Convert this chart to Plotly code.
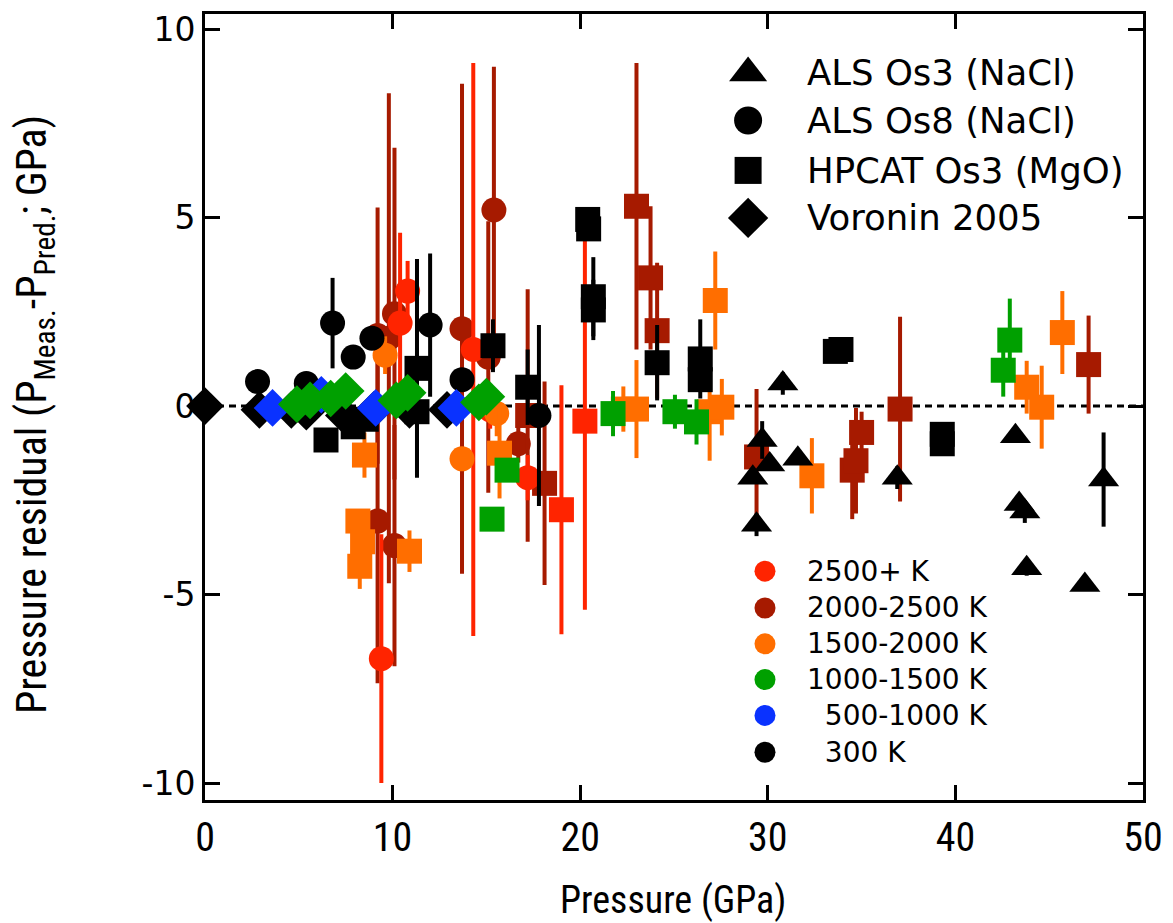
import plotly.graph_objects as go

# ---------------- data ----------------
# colours for temperature bins
temp_labels = ["2500+ K", "2000-2500 K", "1500-2000 K", "1000-1500 K", "\u2007500-1000 K", "\u2007300 K"]
temp_colors = ["#ff2400", "#a61a00", "#ff6e00", "#00a000", "#0a32ff", "#000000"]

series_names = ["ALS Os3 (NaCl)", "ALS Os8 (NaCl)", "HPCAT Os3 (MgO)", "Voronin 2005"]
series_symbols = ["triangle-up", "circle", "square", "diamond"]

# ALS Os3 (NaCl) triangles, 300 K
tri_300_x = [29.2, 29.4, 29.7, 30.1, 30.8, 31.6, 36.9, 43.2, 43.4, 43.7, 43.8, 46.9, 47.9]
tri_300_y = [-1.9, -3.15, -0.9, -1.55, 0.6, -1.4, -1.9, -0.8, -2.6, -2.8, -4.3, -4.75, -1.95]
tri_300_e = [0.0, 0.3, 0.5, 0.0, 0.3, 0.0, 0.3, 0.0, 0.0, 0.3, 0.2, 0.0, 1.25]

# ALS Os8 (NaCl) circles
cir_2500_x = [9.4, 10.4, 10.8, 14.3, 15.2, 17.2]
cir_2500_y = [-6.7, 2.2, 3.05, 1.5, -0.1, -1.9]
cir_2500_e = [3.3, 2.4, 0.8, 7.6, 0.5, 0.6]

cir_2000_x = [9.2, 9.8, 10.1, 9.2, 10.1, 13.7, 15.4, 15.1, 16.7]
cir_2000_y = [1.87, 1.8, 2.45, -3.05, -3.7, 2.05, 5.2, 1.3, -1.0]
cir_2000_e = [3.4, 6.5, 4.4, 4.3, 3.2, 6.5, 3.8, 3.6, 0.5]

cir_1500_x = [9.6, 13.7, 15.55]
cir_1500_y = [1.35, -1.4, -0.2]
cir_1500_e = [0.5, 0.0, 0.6]

cir_300_x = [2.8, 5.4, 6.8, 7.9, 8.9, 12.0, 13.7, 17.8]
cir_300_y = [0.65, 0.6, 2.2, 1.3, 1.8, 2.15, 0.7, -0.25]
cir_300_e = [0.0, 0.0, 1.2, 0.3, 0.0, 1.9, 0.0, 2.4]

# HPCAT Os3 (MgO) squares
sq_2500_x = [19.0, 20.25]
sq_2500_y = [-2.75, -0.4]
sq_2500_e = [3.3, 5.0]

sq_2000_x = [17.2, 18.1, 23.0, 23.75, 24.1, 29.4, 34.5, 34.7, 35.0, 37.05, 47.1]
sq_2000_y = [-0.25, -2.05, 5.3, 3.4, 2.0, -1.35, -1.7, -1.45, -0.7, -0.08, 1.1]
sq_2000_e = [3.35, 2.7, 3.8, 1.9, 1.8, 1.8, 1.3, 1.4, 0.55, 2.45, 1.3]

sq_1500_x = [8.5, 8.15, 8.4, 8.25, 10.9, 15.7, 22.3, 23.0, 26.9, 27.2, 27.55, 32.35, 43.8, 44.6, 45.7]
sq_1500_y = [-1.3, -3.05, -3.6, -4.25, -3.85, -1.25, -0.08, -0.08, -0.15, 2.8, -0.03, -1.85, 0.5, -0.03, 1.95]
sq_1500_e = [0.6, 0.0, 0.0, 0.6, 0.55, 1.2, 0.6, 1.3, 1.3, 1.3, 0.75, 1.0, 0.7, 1.1, 1.1]

sq_1000_x = [15.3, 16.1, 21.75, 25.05, 26.2, 42.55, 42.9]
sq_1000_y = [-3.0, -1.7, -0.2, -0.15, -0.42, 0.95, 1.75]
sq_1000_e = [0.3, 0.3, 0.6, 0.45, 0.6, 0.7, 1.1]

sq_300_x = [6.45, 7.9, 8.6, 11.3, 11.3, 15.35, 17.2, 20.4, 20.45, 20.7, 20.7, 24.1, 26.4, 26.4, 33.6, 33.9, 39.3, 39.3]
sq_300_y = [-0.9, -0.55, -0.35, 1.0, -0.15, 1.6, 0.5, 4.95, 4.7, 2.9, 2.55, 1.15, 1.25, 0.7, 1.45, 1.5, -0.75, -1.0]
sq_300_e = [0.0, 0.0, 0.0, 2.9, 1.7, 0.7, 1.0, 0.0, 0.3, 1.05, 0.8, 1.0, 1.05, 0.3, 0.0, 0.0, 0.3, 0.3]

# Voronin 2005 diamonds
dia_300_x = [0.0, 2.9, 4.6, 5.4, 7.4, 9.0, 10.9, 12.9]
dia_300_y = [0.0, -0.1, -0.1, -0.15, -0.25, -0.1, -0.1, -0.1]

dia_500_x = [3.6, 6.2, 9.1, 13.4]
dia_500_y = [-0.05, 0.3, -0.05, -0.05]

dia_1000_x = [4.9, 5.6, 6.7, 7.5, 10.2, 10.8, 14.6, 15.0]
dia_1000_y = [0.05, 0.15, 0.2, 0.4, 0.15, 0.35, 0.1, 0.25]

x_ticks = [0, 10, 20, 30, 40, 50]
y_ticks = [-10, -5, 0, 5, 10]

# ---------------- figure ----------------
fig = go.Figure()

SIZES = {"triangle-up": 27, "circle": 25, "square": 25, "diamond": 29}


def add(x, y, err, symbol, color):
    kw = {}
    if err is not None:
        kw["error_y"] = dict(type="data", array=err, visible=True, width=0,
                             thickness=4, color=color)
    fig.add_trace(go.Scatter(
        x=x, y=y, mode="markers", showlegend=False, cliponaxis=False,
        marker=dict(symbol=symbol, size=SIZES[symbol], color=color,
                    line=dict(width=0)),
        **kw))


c2500, c2000, c1500, c1000, c500, c300 = temp_colors

add(cir_2000_x, cir_2000_y, cir_2000_e, "circle", c2000)
add(sq_2000_x, sq_2000_y, sq_2000_e, "square", c2000)
add(cir_2500_x, cir_2500_y, cir_2500_e, "circle", c2500)
add(sq_2500_x, sq_2500_y, sq_2500_e, "square", c2500)
add(cir_1500_x, cir_1500_y, cir_1500_e, "circle", c1500)
add(sq_1500_x, sq_1500_y, sq_1500_e, "square", c1500)
add(sq_1000_x, sq_1000_y, sq_1000_e, "square", c1000)
add(cir_300_x, cir_300_y, cir_300_e, "circle", c300)
add(sq_300_x, sq_300_y, sq_300_e, "square", c300)
add(tri_300_x, tri_300_y, tri_300_e, "triangle-up", c300)
add(dia_300_x, dia_300_y, None, "diamond", c300)
add(dia_500_x, dia_500_y, None, "diamond", c500)
add(dia_1000_x, dia_1000_y, None, "diamond", c1000)

# zero reference line
fig.add_shape(type="line", x0=0, x1=50, y0=0, y1=0, xref="x", yref="y",
              line=dict(color="black", width=3, dash="7px,5px"), layer="below")

# ---- custom legends (overlay axis in plot-area fractions) ----
leg1_x, leg1_tx = 0.579, 0.6397
leg1_y = [0.925, 0.8645, 0.801, 0.7405]
leg1_sizes = [33, 28, 27, 31]
for name, sym, yy, s in zip(series_names, series_symbols, leg1_y, leg1_sizes):
    fig.add_trace(go.Scatter(x=[leg1_x], y=[yy], xaxis="x2", yaxis="y2",
                             mode="markers", showlegend=False, cliponaxis=False,
                             hoverinfo="skip",
                             marker=dict(symbol=sym, size=s, color="black")))
    fig.add_annotation(x=leg1_tx, y=yy, xref="paper", yref="paper", text=name,
                       showarrow=False, xanchor="left", yanchor="middle",
                       font=dict(family="DejaVu Sans", size=35.5, color="black"))

leg2_x, leg2_tx = 0.597, 0.6397
leg2_y = [0.2911, 0.2443, 0.1987, 0.1532, 0.1076, 0.0608]
for lab, col, yy in zip(temp_labels, temp_colors, leg2_y):
    fig.add_trace(go.Scatter(x=[leg2_x], y=[yy], xaxis="x2", yaxis="y2",
                             mode="markers", showlegend=False, cliponaxis=False,
                             hoverinfo="skip",
                             marker=dict(symbol="circle", size=21, color=col)))
    fig.add_annotation(x=leg2_tx, y=yy, xref="paper", yref="paper", text=lab,
                       showarrow=False, xanchor="left", yanchor="middle",
                       font=dict(family="DejaVu Sans", size=28, color="black"))

# axis titles
cond = "Liberation Sans Narrow, Roboto Condensed, Arial Narrow, sans-serif"
fig.add_annotation(x=0.499, y=-0.127, xref="paper", yref="paper",
                   text="Pressure (GPa)", showarrow=False,
                   xanchor="center", yanchor="middle",
                   font=dict(family=cond, size=38, color="black"))
fig.add_annotation(x=-0.181, y=0.49, xref="paper", yref="paper", textangle=-90,
                   text="Pressure residual (P<sub>Meas.</sub>-P<sub>Pred.</sub>; GPa)",
                   showarrow=False, xanchor="center", yanchor="middle",
                   font=dict(family=cond, size=42, color="black"))

fig.update_layout(
    width=1173, height=923,
    margin=dict(l=205, r=30, t=10, b=123),
    paper_bgcolor="white", plot_bgcolor="white",
    showlegend=False,
    xaxis=dict(range=[0, 50], tickvals=x_ticks, ticktext=[str(v) for v in x_ticks],
               showgrid=False, zeroline=False, showline=True, linecolor="black",
               linewidth=3, mirror="ticks", ticks="inside", ticklen=15,
               tickwidth=2.5, tickcolor="black",
               tickfont=dict(family=cond, size=40, color="black")),
    yaxis=dict(range=[-10.45, 10.4], tickvals=y_ticks,
               ticktext=[str(v) for v in y_ticks],
               showgrid=False, zeroline=False, showline=True, linecolor="black",
               linewidth=3, mirror="ticks", ticks="inside", ticklen=15,
               tickwidth=2.5, tickcolor="black",
               tickfont=dict(family="DejaVu Sans", size=33, color="black")),
    xaxis2=dict(overlaying="x", range=[0, 1], visible=False, anchor="y2"),
    yaxis2=dict(overlaying="y", range=[0, 1], visible=False, anchor="x2"),
)

fig.write_html("out.html")
